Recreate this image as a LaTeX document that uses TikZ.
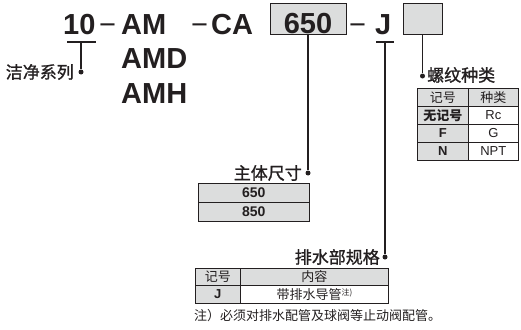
\documentclass[tikz,border=0pt]{standalone}
\usepackage{fontspec}
\setmainfont{Liberation Sans}
\newfontfamily\cjk{Noto Sans CJK SC}
\newfontfamily\cjkm[FakeBold=1.2]{Noto Sans CJK SC}
\definecolor{ink}{HTML}{231F20}
\definecolor{cellgray}{HTML}{DCDDDD}

\begin{document}
\begin{tikzpicture}[x=1pt, y=-1pt,
	big/.style={anchor=base west, inner sep=0pt, text=ink, font=\fontsize{29}{29}\selectfont\bfseries},
	dashtext/.style={anchor=base west, inner sep=0pt, text=ink, font=\fontsize{29}{29}\selectfont},
	codebox/.style={draw=ink, line width=1pt, fill=cellgray, minimum height=31pt, inner sep=0pt},
	partname/.style={inner sep=0pt, text=ink, font=\cjkm\fontsize{17}{17}\selectfont},
	bullet/.style={circle, fill=ink, minimum size=5pt, inner sep=0pt},
	leader/.style={ink, line width=1.3pt},
	uline/.style={ink, line width=1.6pt},
	cell/.style={draw=ink, line width=0.7pt, anchor=north west, inner sep=0pt, text=ink, font=\fontsize{13}{13}\selectfont},
	grey/.style={cell, fill=cellgray}]

	\useasboundingbox (0,0) rectangle (521,329);

	% model code
	\node (n10) [big] at (63,35) {10};
	\node (d1) [dashtext] at (99,35) {−};
	\node (nam) [big] at (121,35) {AM};
	\node (namd) [big] at (121,68) {AMD};
	\node (namh) [big] at (121,103) {AMH};
	\node (d2) [dashtext] at (191,35) {−};
	\node (nca) [big] at (211,35) {CA};
	\node (bsz) [codebox, minimum width=76pt] at (308,19.5) {};
	\node (n650) [big, anchor=base] at (308,34) {650};
	\node (d3) [dashtext] at (349,35) {−};
	\node (nj) [big] at (375,35) {J};
	\node (bthr) [codebox, minimum width=39pt] at (422.5,19.5) {};

	% series
	\coordinate (u10) at (81,42);
	\draw [uline] ([xshift=-14pt]u10) -- ([xshift=15pt]u10);
	\node (p10) [bullet] at (81,72) {};
	\draw [leader] (u10) -- (p10);
	\node (t10) [partname, anchor=east] at (74,72) {洁净系列};

	% thread type
	\node (pthr) [bullet] at (422.5,76) {};
	\draw [leader] (bthr.south) -- (pthr);
	\node (tthr) [partname, anchor=west] at (427,75) {螺纹种类};
	\node (h1a) [grey, minimum width=51pt, minimum height=18pt] at (417,88) {\cjk 记号};
	\node (h1b) [grey, minimum width=50pt, minimum height=18pt] at (468,88) {\cjk 种类};
	\node (k1a) [grey, minimum width=51pt, minimum height=18pt] at (417,106) {\cjk\bfseries 无记号};
	\node (v1a) [cell, minimum width=50pt, minimum height=18pt] at (468,106) {Rc};
	\node (k1b) [grey, minimum width=51pt, minimum height=18pt] at (417,124) {\bfseries F};
	\node (v1b) [cell, minimum width=50pt, minimum height=18pt] at (468,124) {G};
	\node (k1c) [grey, minimum width=51pt, minimum height=18pt] at (417,142) {\bfseries N};
	\node (v1c) [cell, minimum width=50pt, minimum height=18pt] at (468,142) {NPT};

	% body size
	\node (psz) [bullet] at (308,173) {};
	\draw [leader] (bsz.south) -- (psz);
	\node (tsz) [partname, anchor=east] at (302,173) {主体尺寸};
	\node (s650) [grey, minimum width=111pt, minimum height=19pt, font=\fontsize{14}{14}\selectfont\bfseries] at (198,183) {650};
	\node (s850) [grey, minimum width=111pt, minimum height=19pt, font=\fontsize{14}{14}\selectfont\bfseries] at (198,202) {850};

	% drain
	\coordinate (uj) at (385,42);
	\draw [uline] ([xshift=-9pt]uj) -- ([xshift=9pt]uj);
	\node (pj) [bullet] at (385,257) {};
	\draw [leader] (uj) -- (pj);
	\node (tj) [partname, anchor=east] at (380,257) {排水部规格};
	\node (h3a) [grey, minimum width=45pt, minimum height=17pt] at (195,268) {\cjk 记号};
	\node (h3b) [grey, minimum width=148pt, minimum height=17pt] at (240,268) {\cjk 内容};
	\node (k3) [grey, minimum width=45pt, minimum height=18pt, font=\fontsize{13}{13}\selectfont\bfseries] at (195,285) {J};
	\node (v3) [cell, minimum width=148pt, minimum height=18pt] at (240,285) {\cjk 带排水导管\raisebox{4pt}{\fontsize{8}{8}\selectfont 注)}};
	\node (note) [anchor=west, inner sep=0pt, text=ink, font=\cjk\fontsize{13}{13}\selectfont] at (194,316) {注）必须对排水配管及球阀等止动阀配管。};
\end{tikzpicture}
\end{document}
